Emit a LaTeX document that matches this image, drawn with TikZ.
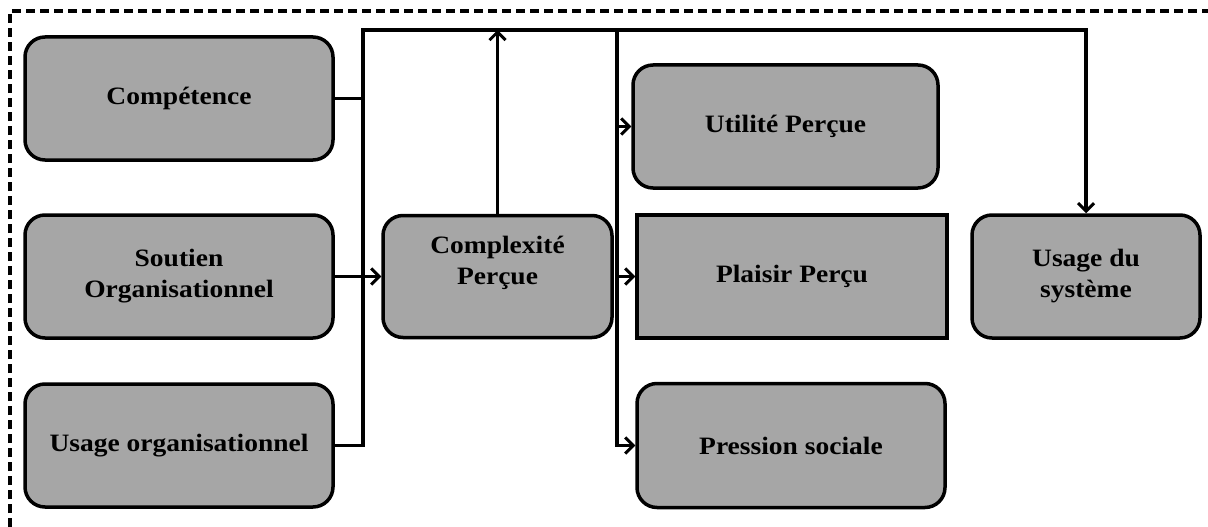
\documentclass[tikz,border=0pt]{standalone}
\usepackage{fontspec}
\setmainfont{Liberation Serif}[FakeStretch=1.1]
\usetikzlibrary{arrows.meta}
\definecolor{boxgray}{HTML}{A6A6A6}
\begin{document}
\begin{tikzpicture}[x=1pt,y=-1pt,
  box/.style={draw=black,line width=3.5pt,fill=boxgray,rounded corners=20pt,
    align=center,inner sep=0pt,
    font=\fontsize{25}{31}\selectfont\bfseries},
  sqbox/.style={box,rounded corners=0pt},
  conn/.style={line width=3.5pt,line join=miter},
  arr/.style={conn,-{Straight Barb[length=8pt,width=16pt,line width=3pt]}},
  frame/.style={line width=3.5pt,dash pattern=on 9pt off 5pt}]
\useasboundingbox (0,0) rectangle (1208,527);
% frame
\draw[frame] (10,527) -- (10,11) -- (1208,11);
% boxes
\node[box,minimum width=308pt,minimum height=123pt] (comp) at (179,98.5) {Compétence};
\node[box,minimum width=308pt,minimum height=123pt] (sout) at (179,276.5) {Soutien\\Organisationnel};
\node[box,minimum width=308pt,minimum height=123pt] (uo) at (179,445.5) {Usage organisationnel};
\node[box,minimum width=229pt,minimum height=122pt,
  label={[align=center,yshift=14pt,font=\fontsize{25}{31}\selectfont\bfseries]center:Complexité\\Perçue}] (cp) at (497.5,276.5) {};
\node[box,minimum width=305pt,minimum height=123pt] (ut) at (785.5,126.5) {Utilité Perçue};
\node[sqbox,minimum width=310pt,minimum height=123pt] (pl) at (792,276.5) {Plaisir Perçu};
\node[box,minimum width=308pt,minimum height=124pt] (ps) at (791,445.5) {Pression sociale};
\node[box,minimum width=228pt,minimum height=123pt] (us) at (1086,276.5) {Usage du\\système};
% junction coordinates
\coordinate (tl) at (363,30);
\coordinate (vt) at (617,30);
% connectors
\draw[conn] (comp.east) -- (comp.east -| tl);
\draw[arr] (uo.east) -| (tl) -- (us.north |- tl) -- (us.north);
\draw[arr] (sout.east) -- (cp.west);
\draw[arr] (cp.north) -- (cp.north |- tl);
\draw[arr] (vt) |- (ps.west);
\draw[arr] (ut.west -| vt) -- (ut.west);
\draw[arr] (pl.west -| vt) -- (pl.west);
\end{tikzpicture}
\end{document}
